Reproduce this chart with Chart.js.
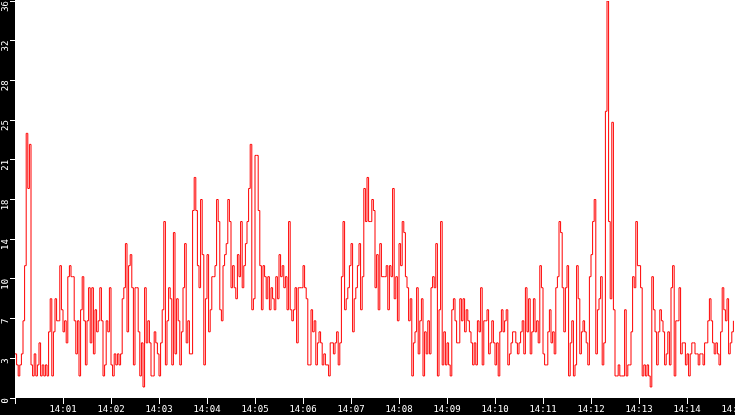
<!DOCTYPE html>
<html>
<head>
<meta charset="utf-8">
<script src="https://cdn.jsdelivr.net/npm/chart.js@4/dist/chart.umd.min.js"></script>
<style>
  html, body { margin: 0; padding: 0; background: #000; overflow: hidden; }
  #chart { display: block; }
</style>
</head>
<body>
<canvas id="chart" width="735" height="415"></canvas>
<script>
// one sample every 2 seconds from 14:00:00
const sampleSeconds = 2;

// 14:00:00 - 14:02:35
const seg1 = [4, 3, 2, 3, 4, 7, 12, 24, 19, 23, 3, 2, 4, 2, 3, 5, 2, 3, 2, 3,
    2, 6, 9, 2, 6, 9, 7, 7, 12, 8, 6, 7, 5, 11, 12, 11, 11, 7, 4, 7,
    2, 8, 11, 7, 3, 7, 10, 5, 10, 4, 8, 6, 7, 10, 7, 2, 3, 7, 6, 10,
    3, 2, 4, 3, 4, 3, 4, 9, 10, 14, 6, 12, 13, 10, 3, 10, 10, 6];
// 14:02:36 - 14:05:11
const seg2 = [2, 5, 1, 10, 5, 7, 5, 2, 2, 6, 5, 4, 2, 5, 8, 16, 3, 7, 10, 9,
    3, 15, 4, 9, 7, 3, 6, 10, 14, 5, 7, 4, 4, 17, 20, 17, 12, 10, 18, 13,
    3, 9, 13, 6, 8, 11, 11, 12, 18, 16, 8, 7, 12, 13, 14, 18, 16, 10, 12, 10,
    9, 13, 11, 16, 10, 12, 14, 16, 19, 23, 8, 9, 22, 22, 17, 12, 8, 12];
// 14:05:12 - 14:07:47
const seg3 = [11, 9, 11, 8, 10, 9, 8, 11, 9, 13, 11, 12, 10, 11, 8, 16, 8, 7, 8, 10,
    5, 10, 10, 10, 12, 10, 9, 3, 3, 8, 6, 7, 3, 5, 6, 5, 3, 4, 3, 3,
    2, 5, 5, 4, 5, 6, 3, 5, 11, 16, 8, 9, 10, 12, 14, 6, 9, 10, 12, 14,
    8, 11, 19, 16, 20, 16, 16, 18, 17, 10, 13, 8, 14, 11, 11, 11, 12, 8];
// 14:07:48 - 14:10:23
const seg4 = [12, 11, 19, 9, 11, 7, 14, 12, 16, 15, 11, 10, 7, 9, 2, 5, 6, 10, 4, 7,
    9, 2, 6, 4, 7, 4, 10, 11, 10, 14, 2, 8, 16, 3, 6, 3, 5, 3, 2, 8,
    9, 7, 5, 5, 9, 7, 9, 6, 8, 7, 6, 5, 3, 5, 3, 7, 6, 10, 3, 7,
    7, 8, 4, 5, 7, 5, 3, 5, 2, 6, 8, 6, 7, 8, 3, 4, 5, 6];
// 14:10:24 - 14:12:59
const seg5 = [6, 5, 4, 5, 6, 7, 4, 10, 6, 9, 4, 6, 9, 6, 7, 5, 12, 10, 4, 3,
    3, 6, 8, 5, 6, 4, 10, 11, 16, 15, 10, 6, 10, 12, 2, 5, 7, 2, 3, 12,
    9, 4, 6, 7, 6, 5, 3, 11, 13, 16, 18, 4, 8, 9, 11, 3, 5, 26, 36, 16,
    9, 25, 8, 2, 2, 3, 2, 2, 2, 8, 2, 3, 3, 6, 11, 10, 16, 12];
// 14:13:00 - 14:14:58
const seg6 = [12, 10, 2, 3, 2, 3, 2, 1, 11, 8, 6, 3, 6, 8, 7, 6, 3, 4, 6, 3,
    10, 12, 2, 7, 7, 10, 4, 5, 5, 3, 4, 2, 4, 5, 5, 4, 4, 3, 4, 4,
    3, 5, 5, 7, 9, 7, 5, 4, 5, 4, 3, 6, 10, 8, 7, 9, 4, 5, 6, 7];

const timeTicks = ['14:00', '14:01', '14:02', '14:03', '14:04', '14:05', '14:06', '14:07',
    '14:08', '14:09', '14:10', '14:11', '14:12', '14:13', '14:14', '14:15'];
const yTickLabels = ['0', '3', '7', '10', '14', '18', '21', '25', '28', '32', '36'];

const values = [...seg1, ...seg2, ...seg3, ...seg4, ...seg5, ...seg6];
const points = values.map((v, i) => ({ x: i * sampleSeconds, y: v }));

const tickFont = { family: 'DejaVu Sans Mono', size: 9 };

// black frame behind the axes, white plot area
const panelColours = {
    id: 'panelColours',
    beforeDraw(chart) {
        const { ctx, chartArea } = chart;
        ctx.save();
        ctx.fillStyle = '#000000';
        ctx.fillRect(0, 0, chart.width, chart.height);
        ctx.fillStyle = '#ffffff';
        ctx.fillRect(chartArea.left, 0, chartArea.right - chartArea.left, chartArea.bottom);
        ctx.restore();
    }
};

new Chart(document.getElementById('chart').getContext('2d'), {
    type: 'line',
    data: {
        datasets: [{
            data: points,
            borderColor: '#ff0000',
            borderWidth: 1,
            pointRadius: 0,
            stepped: true,
            fill: false
        }]
    },
    options: {
        responsive: false,
        animation: false,
        devicePixelRatio: 1,
        parsing: false,
        layout: { padding: { top: 1 } },
        plugins: {
            legend: { display: false },
            tooltip: { enabled: false }
        },
        scales: {
            x: {
                type: 'linear',
                min: 0,
                max: 900,
                grid: { drawOnChartArea: false, tickLength: 6, tickColor: '#ffffff' },
                border: { display: false },
                ticks: {
                    stepSize: 60,
                    autoSkip: false,
                    maxRotation: 0,
                    padding: 0,
                    color: '#ffffff',
                    font: tickFont,
                    callback: (v) => (v === 0 ? '' : timeTicks[Math.round(v / 60)])
                },
                afterFit(scale) {
                    scale.height = 17;
                    scale.paddingLeft = 0;
                    scale.paddingRight = 0;
                }
            },
            y: {
                min: 0,
                max: 36,
                grid: { drawOnChartArea: false, tickLength: 5, tickColor: '#ffffff' },
                border: { display: false },
                ticks: {
                    stepSize: 3.6,
                    autoSkip: false,
                    minRotation: 90,
                    maxRotation: 90,
                    padding: 4,
                    color: '#ffffff',
                    font: tickFont,
                    callback: (v, idx) => yTickLabels[idx]
                },
                afterFit(scale) {
                    scale.width = 15;
                    scale.paddingTop = 0;
                    scale.paddingBottom = 0;
                }
            }
        }
    },
    plugins: [panelColours]
});
</script>
</body>
</html>
